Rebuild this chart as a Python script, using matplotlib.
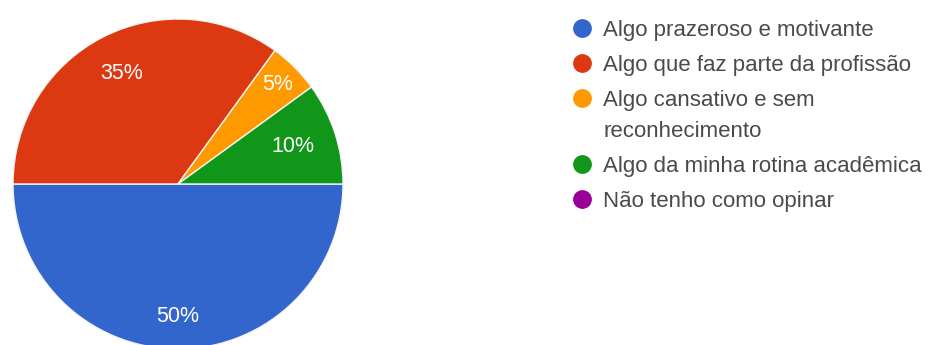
import matplotlib
matplotlib.use("Agg")
import matplotlib.pyplot as plt
from matplotlib.lines import Line2D
import numpy as np

categories = [
    "Algo prazeroso e motivante",
    "Algo que faz parte da profissão",
    "Algo cansativo e sem\nreconhecimento",
    "Algo da minha rotina acadêmica",
    "Não tenho como opinar",
]
values = [50, 35, 5, 10, 0]
colors = ["#3366CC", "#DC3912", "#FF9900", "#109618", "#990099"]

W, H, DPI = 930, 345, 100
fig = plt.figure(figsize=(W / DPI, H / DPI), dpi=DPI)
fig.patch.set_facecolor("white")
plt.rcParams["font.family"] = ["Liberation Sans", "DejaVu Sans"]

# pie axes: circle centred at (178, 184) px with radius 165 px
cx, cy, r = 178, 184, 165
ax = fig.add_axes([(cx - r) / W, (H - cy - r) / H, 2 * r / W, 2 * r / H])
ax.axis("off")

shown = [i for i, v in enumerate(values) if v > 0]
wedges, _ = ax.pie(
    [values[i] for i in shown],
    colors=[colors[i] for i in shown],
    startangle=0,
    counterclock=False,
    radius=1,
    wedgeprops=dict(edgecolor="#f4f4f4", linewidth=1.0),
)
ax.set_xlim(-1, 1)
ax.set_ylim(-1, 1)
ax.set_aspect("equal")

# percentage labels placed inside each slice
label_dist = {0: 0.80, 1: 0.75, 2: 0.85, 3: 0.73}
total = sum(values)
for w, i in zip(wedges, shown):
    mid = np.deg2rad((w.theta1 + w.theta2) / 2)
    d = label_dist.get(i, 0.78)
    ax.text(d * np.cos(mid), d * np.sin(mid), f"{values[i] / total * 100:.0f}%",
            ha="center", va="center", color="white", fontsize=15.5)

# legend
lx_dot, lx_txt = 582, 603
y = 28
line_h = 31
row_gap = 35
for lab, col in zip(categories, colors):
    fig.add_artist(Line2D([lx_dot / W], [1 - y / H], marker="o", markersize=12.5,
                          color=col, linestyle="none", transform=fig.transFigure))
    for k, part in enumerate(lab.split("\n")):
        fig.text(lx_txt / W, 1 - (y + 8 + k * line_h) / H, part, ha="left",
                 va="baseline", color="#4a4a4a", fontsize=16)
    nlines = lab.count("\n") + 1
    y += row_gap + (nlines - 1) * line_h

fig.savefig("out.png", dpi=DPI, facecolor="white")
